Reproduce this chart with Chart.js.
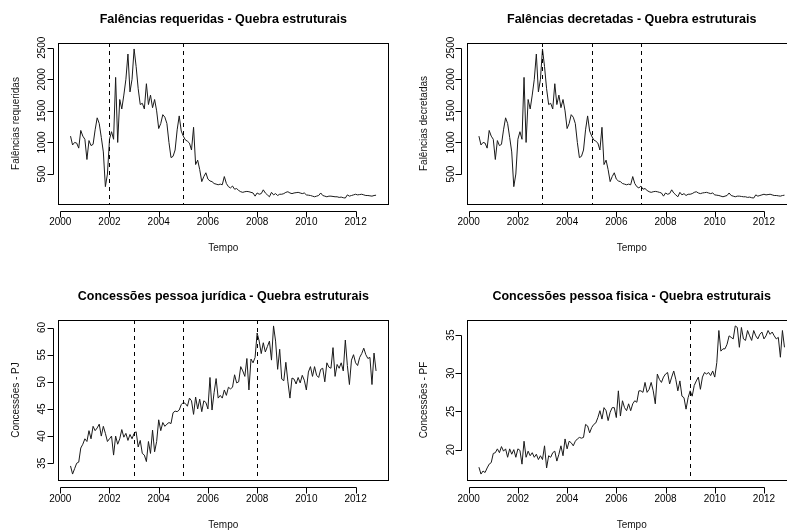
<!DOCTYPE html>
<html>
<head>
<meta charset="utf-8">
<script src="https://cdn.jsdelivr.net/npm/chart.js@4.4.1/dist/chart.umd.min.js"></script>
<style>
html,body{margin:0;padding:0;background:#fff;overflow:hidden;width:787px;height:531px;position:relative;}
canvas{position:absolute;}
</style>
</head>
<body>
<canvas id="c1" width="400" height="265" style="left:0px;top:0px;width:400px;height:265px"></canvas>
<canvas id="c2" width="410" height="265" style="left:408px;top:0px;width:410px;height:265px"></canvas>
<canvas id="c3" width="400" height="254" style="left:0px;top:277px;width:400px;height:254px"></canvas>
<canvas id="c4" width="410" height="254" style="left:408px;top:277px;width:410px;height:254px"></canvas>
<script>
// ---- data (monthly, starting June 2000) ----
const startYear = 2000;
const startMonth = 6;
const xTickYears = [2000, 2002, 2004, 2006, 2008, 2010, 2012];

const falenciasRequeridas = [
  1100, 960, 1000, 990, 910, 1190, 1100,
  1050, 730, 1030, 950, 970, 1200, 1390, 1300, 1080, 850, 300, 500,
  1050, 1170, 1050, 2030, 1000, 1680, 1530, 1750, 2000, 2400, 1800, 2000,
  2480, 2200, 1850, 1600, 1620, 1530, 1930, 1600, 1750, 1550, 1680, 1500,
  1220, 1300, 1440, 1400, 1300, 1000, 760, 780, 880, 1200, 1420, 1180,
  1100, 1040, 1020, 990, 880, 1240, 650, 720, 570, 380, 460, 520,
  420, 390, 380, 350, 340, 330, 340, 330, 460, 350, 300, 280,
  310, 260, 270, 240, 220, 210, 220, 225, 220, 210, 200, 150,
  200, 180, 190, 250, 200, 170, 140, 210, 170, 190, 160, 180,
  180, 190, 210, 220, 200, 190, 200, 205, 210, 200, 190, 200,
  170, 165, 160, 150, 140, 150, 160, 200, 160, 150, 140, 150,
  150, 145, 140, 140, 130, 135, 125, 120, 170, 150, 160, 170,
  180, 170, 175, 180, 170, 160, 160, 155, 150, 160, 165
];

const falenciasDecretadas = [
  1100, 960, 1000, 990, 910, 1190, 1100,
  1050, 730, 1030, 950, 970, 1200, 1390, 1300, 1080, 850, 300, 500,
  1050, 1170, 1050, 2030, 1000, 1680, 1530, 1750, 2000, 2400, 1800, 2000,
  2480, 2200, 1850, 1600, 1620, 1530, 1930, 1600, 1750, 1550, 1680, 1500,
  1220, 1300, 1440, 1400, 1300, 1000, 760, 780, 880, 1200, 1420, 1180,
  1100, 1040, 1020, 990, 880, 1240, 650, 720, 570, 380, 460, 520,
  420, 390, 380, 350, 340, 330, 340, 330, 460, 350, 300, 280,
  310, 260, 270, 240, 220, 210, 220, 225, 220, 210, 200, 150,
  200, 180, 190, 250, 200, 170, 140, 210, 170, 190, 160, 180,
  180, 190, 210, 220, 200, 190, 200, 205, 210, 200, 190, 200,
  170, 165, 160, 150, 140, 150, 160, 200, 160, 150, 140, 150,
  150, 145, 140, 140, 130, 135, 125, 120, 170, 150, 160, 170,
  180, 170, 175, 180, 170, 160, 160, 155, 150, 160, 165
];

const concessoesPJ = [
  34.5, 33.0, 34.0, 35.0, 35.2, 37.8, 38.5,
  39.5, 39.0, 41.0, 39.5, 41.8, 41.0, 41.5, 42.2, 40.0, 41.8, 40.5, 39.0,
  39.5, 40.0, 36.5, 40.0, 38.5, 39.5, 41.2, 39.8, 40.5, 39.2, 40.3, 39.5,
  40.5, 40.8, 38.0, 39.2, 36.8, 36.5, 35.3, 39.0, 36.8, 41.1, 37.1, 39.0,
  43.0, 41.0, 42.5, 41.8, 42.2, 42.5, 42.3, 44.3, 44.6, 44.5, 44.8, 45.8,
  46.2, 46.0, 45.5, 47.0, 46.5, 44.0, 47.2, 45.0, 46.8, 44.5, 46.5, 46.2,
  45.0, 50.8, 44.8, 48.0, 50.6, 47.0, 47.5, 47.0, 48.5, 47.5, 49.0, 48.7,
  49.0, 51.3, 49.8, 50.0, 52.8, 52.0, 51.0, 54.3, 48.5, 54.2, 53.5, 54.5,
  59.0, 57.5, 55.2, 57.2, 55.5, 56.5, 57.5, 54.0, 60.3, 57.5, 52.3, 56.0,
  50.5, 50.2, 53.6, 50.0, 47.0, 50.7, 50.5, 49.6, 50.8, 49.8, 51.2, 50.3,
  48.5, 51.8, 52.8, 51.0, 52.8, 51.2, 50.8, 52.3, 52.5, 50.0, 53.5, 52.7,
  52.5, 56.3, 51.0, 53.2, 52.5, 53.5, 52.0, 57.7, 53.0, 49.5, 54.0, 55.0,
  53.5, 53.0, 54.5, 55.2, 56.2, 55.0, 54.3, 54.5, 49.5, 55.3, 52.0
];

const concessoesPF = [
  17.7, 16.8, 17.2, 17.0, 17.6, 18.1, 18.3, 19.5, 19.6, 20.1,
  19.6, 20.4, 19.8, 20.1, 19.0, 20.1, 19.4, 20.0, 19.0, 20.1,
  19.9, 18.1, 21.1, 19.0, 19.8, 19.2, 19.6, 19.0, 19.4, 18.7,
  19.2, 18.7, 20.5, 17.6, 19.2, 19.0, 19.6, 19.8, 18.5, 19.4,
  20.5, 19.2, 21.4, 20.1, 21.1, 20.9, 20.5, 21.1, 21.4, 21.6,
  21.5, 21.6, 23.3, 23.1, 22.2, 22.9, 23.3, 23.5, 24.2, 25.1,
  24.0, 25.5, 25.1, 23.8, 24.9, 25.5, 25.5, 24.2, 27.7, 24.4,
  26.4, 25.5, 25.1, 26.0, 25.1, 26.0, 26.4, 26.2, 27.7, 27.7,
  27.5, 28.8, 27.5, 27.9, 28.8, 27.7, 26.0, 29.9, 29.2, 28.8,
  29.5, 29.9, 30.1, 28.6, 29.5, 30.3, 29.2, 27.7, 29.0, 27.0,
  26.8, 25.3, 26.8, 27.7, 27.0, 28.4, 29.0, 29.5, 27.9, 29.5,
  30.1, 29.9, 30.1, 29.7, 30.3, 29.5, 31.4, 35.6, 32.9, 33.2,
  33.2, 33.8, 34.9, 34.7, 34.5, 36.2, 36.0, 33.4, 36.0, 34.5,
  34.3, 35.6, 34.9, 34.3, 35.6, 34.9, 34.5, 35.1, 35.4, 34.5,
  34.9, 35.6, 35.1, 35.4, 34.9, 34.5, 34.7, 32.1, 35.6, 33.4
];

const breaksRequeridas = [2002, 2005];
const breaksDecretadas = [2003, 2005, 2007];
const breaksPJ = [2003, 2005, 2008];
const breaksPF = [2009];

const ticksFalencias = [500, 1000, 1500, 2000, 2500];
const ticksPJ = [35, 40, 45, 50, 55, 60];
const ticksPF = [20, 25, 30, 35];

// ---- helpers ----
const FONT = "'Liberation Sans', Arial, Helvetica, sans-serif";
const timeOf = i => startYear + (startMonth - 1) / 12 + i / 12;

function rRange(arr) { // R default axis extension: 4% each side
  const mn = Math.min(...arr), mx = Math.max(...arr), d = (mx - mn) * 0.04;
  return [mn - d, mx + d];
}
const mctx = document.createElement('canvas').getContext('2d');
mctx.font = "10px " + FONT;
const widest = labels => Math.max(...labels.map(l => mctx.measureText(String(l)).width));

const crisp = v => Math.round(v) + 0.5;

const rStyle = {
  id: 'rStyle',
  afterDatasetsDraw(chart, args, o) {
    const {ctx, chartArea: a, scales: {x}} = chart;
    ctx.save();
    ctx.strokeStyle = '#000';
    ctx.lineWidth = 1;
    ctx.setLineDash([4, 4]);
    for (const b of o.breaks) {
      const px = crisp(x.getPixelForValue(b));
      ctx.beginPath();
      ctx.moveTo(px, a.top);
      ctx.lineTo(px, a.bottom);
      ctx.stroke();
    }
    ctx.restore();
  },
  afterDraw(chart) {
    const {ctx, chartArea: a, scales: {x, y}} = chart;
    ctx.save();
    ctx.strokeStyle = '#000';
    ctx.lineWidth = 1;
    ctx.setLineDash([]);
    ctx.strokeRect(crisp(a.left), crisp(a.top), Math.round(a.right) - Math.round(a.left), Math.round(a.bottom) - Math.round(a.top));
    const xt = x.ticks.map(t => crisp(x.getPixelForValue(t.value)));
    const ay = crisp(a.bottom + 6.5);
    ctx.beginPath();
    ctx.moveTo(xt[0], ay); ctx.lineTo(xt[xt.length - 1], ay);
    for (const p of xt) { ctx.moveTo(p, ay); ctx.lineTo(p, ay + 6); }
    ctx.stroke();
    const yt = y.ticks.map(t => crisp(y.getPixelForValue(t.value)));
    const ax = crisp(a.left - 5.5);
    ctx.beginPath();
    ctx.moveTo(ax, yt[0]); ctx.lineTo(ax, yt[yt.length - 1]);
    for (const p of yt) { ctx.moveTo(ax, p); ctx.lineTo(ax - 6, p); }
    ctx.stroke();
    ctx.restore();
  }
};

function panel(id, cfg) {
  const times = cfg.series.map((v, i) => timeOf(i));
  const [xmin, xmax] = rRange(times);
  const [ymin, ymax] = rRange(cfg.series);
  const yPad = 15.8 - widest(cfg.yTicks) / 2;
  new Chart(document.getElementById(id), {
    type: 'line',
    data: {
      datasets: [{
        data: cfg.series.map((v, i) => ({x: times[i], y: v})),
        borderColor: '#1a1a1a',
        borderWidth: 1,
        pointRadius: 0,
        tension: 0,
        fill: false
      }]
    },
    options: {
      responsive: false,
      animation: false,
      events: [],
      layout: {padding: {left: 0, right: cfg.padRight, top: 0, bottom: cfg.padBottom}},
      plugins: {
        legend: {display: false},
        tooltip: {enabled: false},
        title: {
          display: true, text: cfg.title, fullSize: false, color: '#000',
          font: {family: FONT, size: 12.5, weight: 'bold', lineHeight: 1.2},
          padding: {top: 12.5, bottom: 15.5}
        },
        rStyle: {breaks: cfg.breaks}
      },
      scales: {
        x: {
          type: 'linear', min: xmin, max: xmax, bounds: 'data',
          grid: {display: false, drawTicks: false},
          border: {display: false},
          afterBuildTicks: s => { s.ticks = xTickYears.map(v => ({value: v})); },
          afterFit: s => { s.height = cfg.xHeight; },
          ticks: {
            autoSkip: false, minRotation: 0, maxRotation: 0, padding: cfg.xTickPad,
            color: '#000', font: {family: FONT, size: 10}, callback: v => String(v)
          },
          title: {display: true, text: 'Tempo', color: '#111', font: {family: FONT, size: 10}, padding: {top: 0, bottom: 0}}
        },
        y: {
          type: 'linear', min: ymin, max: ymax, bounds: 'data',
          grid: {display: false, drawTicks: false},
          border: {display: false},
          afterBuildTicks: s => { s.ticks = cfg.yTicks.map(v => ({value: v})); },
          afterFit: s => { s.width = cfg.yWidth; },
          ticks: {
            autoSkip: false, minRotation: 90, maxRotation: 90, crossAlign: 'center', padding: yPad,
            color: '#000', font: {family: FONT, size: 10}, callback: v => String(v)
          },
          title: {display: true, text: cfg.yTitle, color: '#111', font: {family: FONT, size: 10}, padding: {top: 10, bottom: 0}}
        }
      }
    },
    plugins: [rStyle]
  });
}

panel('c1', {series: falenciasRequeridas, breaks: breaksRequeridas, yTicks: ticksFalencias,
  title: 'Falências requeridas - Quebra estruturais', yTitle: 'Falências requeridas',
  yWidth: 58.3, padRight: 11.7, xHeight: 50, padBottom: 11, xTickPad: 12.7});
panel('c2', {series: falenciasDecretadas, breaks: breaksDecretadas, yTicks: ticksFalencias,
  title: 'Falências decretadas - Quebra estruturais', yTitle: 'Falências decretadas',
  yWidth: 58.7, padRight: 21.3, xHeight: 50, padBottom: 11, xTickPad: 12.7});
panel('c3', {series: concessoesPJ, breaks: breaksPJ, yTicks: ticksPJ,
  title: 'Concessões pessoa jurídica - Quebra estruturais', yTitle: 'Concessões - PJ',
  yWidth: 58.3, padRight: 11.7, xHeight: 51, padBottom: 0, xTickPad: 13.5});
panel('c4', {series: concessoesPF, breaks: breaksPF, yTicks: ticksPF,
  title: 'Concessões pessoa fisica - Quebra estruturais', yTitle: 'Concessões - PF',
  yWidth: 58.7, padRight: 21.3, xHeight: 51, padBottom: 0, xTickPad: 13.5});
</script>
</body>
</html>
